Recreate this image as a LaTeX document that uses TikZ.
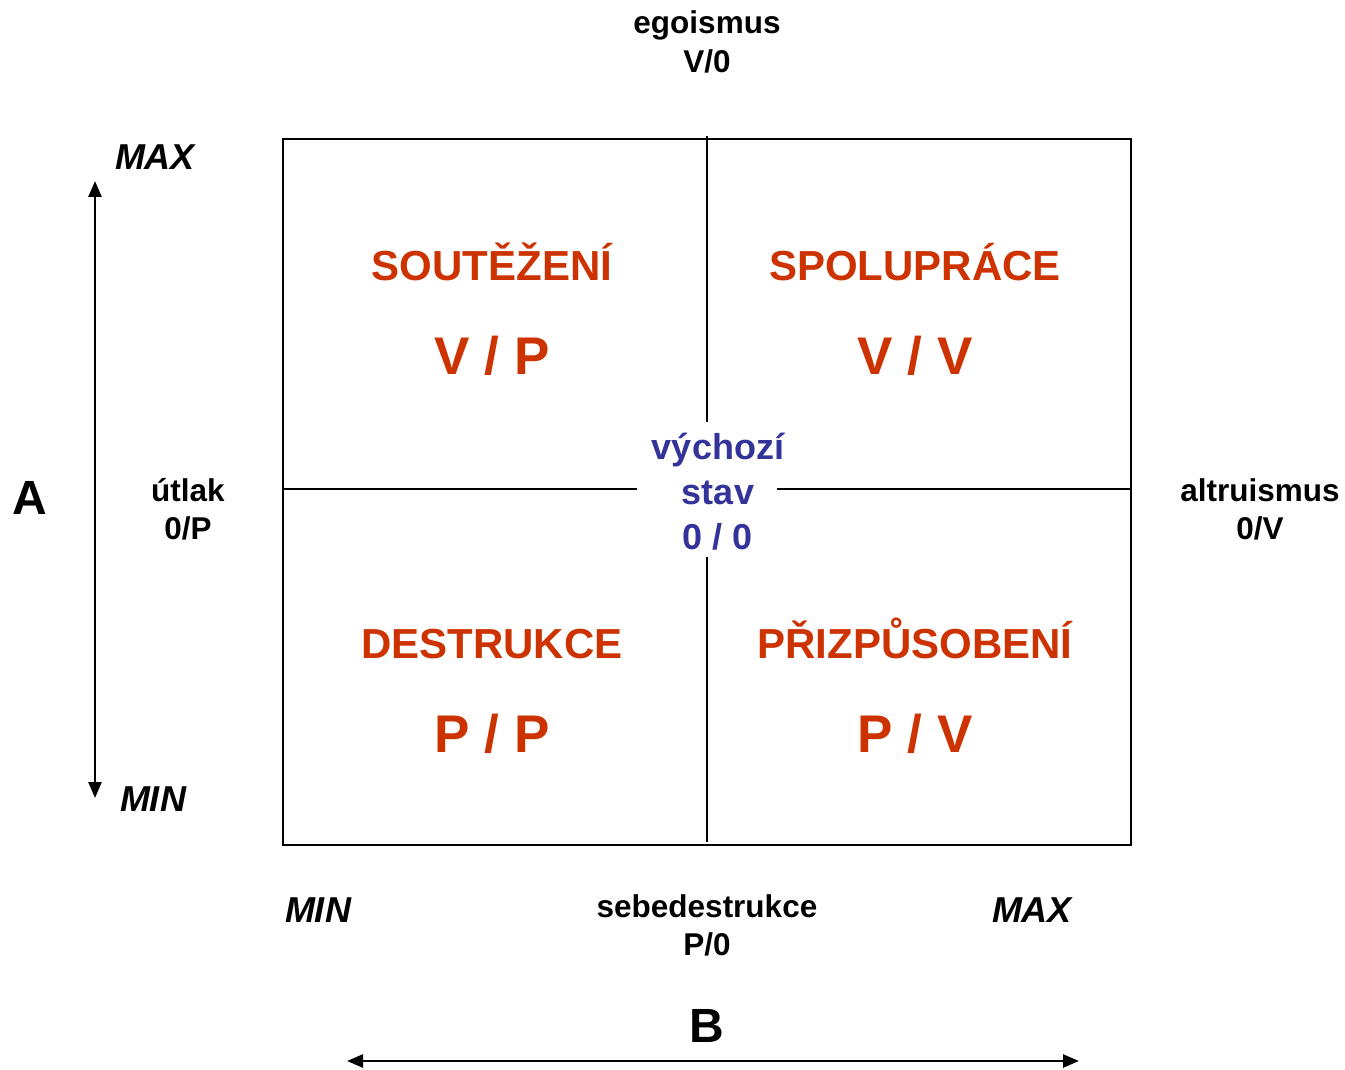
\documentclass[tikz,border=0pt]{standalone}
\usepackage{fontspec}
\setmainfont{Liberation Sans}
\usetikzlibrary{arrows.meta}
\definecolor{qred}{HTML}{CC3300}
\definecolor{qblue}{HTML}{333399}
\begin{document}
\begin{tikzpicture}[x=1pt,y=-1pt,
  lab/.style={anchor=base,inner sep=0pt,font=\fontsize{31.5}{36}\selectfont\bfseries},
  minmax/.style={anchor=base,inner sep=0pt,font=\fontsize{36}{40}\selectfont\bfseries\itshape},
  big/.style={anchor=base,inner sep=0pt,font=\fontsize{48}{54}\selectfont\bfseries},
  qtitle/.style={anchor=base,inner sep=0pt,text=qred,font=\fontsize{42}{48}\selectfont\bfseries},
  qval/.style={anchor=base,inner sep=0pt,text=qred,font=\fontsize{53}{60}\selectfont\bfseries},
  ctr/.style={anchor=base,inner sep=0pt,text=qblue,font=\fontsize{36}{42}\selectfont\bfseries},
  frame/.style={line width=2pt},
  axis/.style={line width=2.5pt,{Triangle[width=13pt,length=16pt]}-{Triangle[width=13pt,length=16pt]}}]
\useasboundingbox (0,0) rectangle (1345,1070);
% frame and cross
\node[draw,frame,minimum width=848pt,minimum height=706pt,inner sep=0pt] (box) at (707,492) {};
\coordinate (vt) at (707,136);
\coordinate (vtb) at (707,422);
\coordinate (vbt) at (707,557);
\coordinate (vb) at (707,842);
\coordinate (hl) at (283,489);
\coordinate (hlr) at (637,489);
\coordinate (hrl) at (777,489);
\coordinate (hr) at (1131,489);
\draw[frame] (vt) -- (vtb);
\draw[frame] (vbt) -- (vb);
\draw[frame] (hl) -- (hlr);
\draw[frame] (hrl) -- (hr);
% axes
\coordinate (at) at (95,181);
\coordinate (ab) at (95,798);
\draw[axis] (at) -- (ab);
\coordinate (bl) at (347,1061);
\coordinate (br) at (1079,1061);
\draw[axis] (bl) -- (br);
% labels
\node[lab] (ego) at (707,34) {egoismus};
\node[lab] (ego2) at (707,73) {V/0};
\node[lab] (utl) at (188,501) {útlak};
\node[lab] (utl2) at (188,539) {0/P};
\node[lab] (alt) at (1260,501) {altruismus};
\node[lab] (alt2) at (1260,539) {0/V};
\node[lab] (seb) at (707,917) {sebedestrukce};
\node[lab] (seb2) at (707,955) {P/0};
\node[minmax] (amax) at (155,170) {MAX};
\node[minmax] (amin) at (153,811) {MIN};
\node[minmax] (bmin) at (318,922) {MIN};
\node[minmax] (bmax) at (1032,922) {MAX};
\node[big] (A) at (30,514) {A};
\node[big] (B) at (707,1042) {B};
% quadrants
\node[qtitle] (q1) at (492,280) {SOUTĚŽENÍ};
\node[qval] (q1v) at (492,374) {V / P};
\node[qtitle] (q2) at (915,280) {SPOLUPRÁCE};
\node[qval] (q2v) at (915,374) {V / V};
\node[qtitle] (q3) at (492,658) {DESTRUKCE};
\node[qval] (q3v) at (492,752) {P / P};
\node[qtitle] (q4) at (915,658) {PŘIZPŮSOBENÍ};
\node[qval] (q4v) at (915,752) {P / V};
% center
\node[ctr] (c1) at (718,459) {výchozí};
\node[ctr] (c2) at (718,504) {stav};
\node[ctr] (c3) at (718,549) {0 / 0};
\end{tikzpicture}
\end{document}
